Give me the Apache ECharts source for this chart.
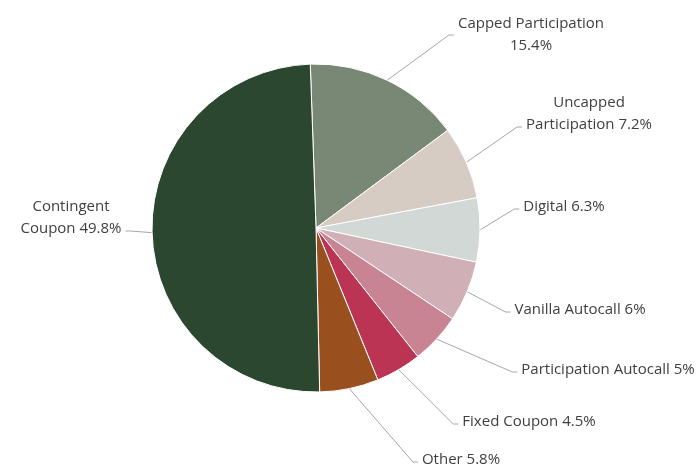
<!DOCTYPE html>
<html lang="en">
<head>
    <meta charset="UTF-8">
    <title>Product mix</title>
    <script src="https://cdn.jsdelivr.net/npm/echarts@6/dist/echarts.min.js"></script>
</head>
<body style="margin:0;background:#fff">
    <div id="pieChart" style="width: 696px;height: 469px"></div>
<script>
    // slices, clockwise from 12 o'clock
    var names = ['Capped Participation', 'Uncapped\nParticipation', 'Digital', 'Vanilla Autocall',
                 'Participation Autocall', 'Fixed Coupon', 'Other', 'Contingent\nCoupon'];
    var shares = [15.4, 7.2, 6.3, 6, 5, 4.5, 5.8, 49.8];
    var colors = ['#798874', '#d6ccc4', '#d2d8d6', '#d0afb6', '#c98494', '#bc3453', '#9a501e', '#2b4730'];
    // separator between name and value in the label
    var seps = ['\n', ' ', ' ', ' ', ' ', ' ', ' ', ' '];

    // label centres, relative to the pie centre (layout only)
    var cx = 316, cy = 228;
    var labelOffsets = [[215, -193], [273, -114], [248, -21], [264, 82],
                        [292, 142], [213, 194], [145, 232], [-245, -10]];

    var chart = echarts.init(document.getElementById('pieChart'));

    var data = [];
    for (var i = 0; i < names.length; i++) {
        data.push({
            name: names[i],
            value: shares[i],
            itemStyle: { color: colors[i] }
        });
    }

    var option = {
        animation: false,
        series: [{
            type: 'pie',
            center: [cx, cy],
            radius: 164,
            startAngle: 92,
            clockwise: true,
            data: data,
            itemStyle: {
                borderColor: '#fff',
                borderWidth: 1
            },
            label: {
                show: true,
                position: 'outside',
                fontFamily: 'Open Sans',
                fontSize: 15,
                color: '#404040',
                lineHeight: 22,
                overflow: 'none',
                formatter: function (p) {
                    return p.name + seps[p.dataIndex] + p.value + '%';
                }
            },
            labelLine: {
                show: true,
                lineStyle: { color: '#a6a6a6', width: 1 }
            },
            labelLayout: function (p) {
                var k = p.dataIndex;
                var x = cx + labelOffsets[k][0];
                var y = cy + labelOffsets[k][1];
                var w = p.labelRect.width;
                var h = p.labelRect.height;
                var right = x > cx;
                var endX = right ? x - w / 2 - 4 : x + w / 2 + 4;
                // line meets the value line, or the middle when the value sits alone
                var endY = seps[k] === '\n' ? y : y + h / 2 - 9;
                var elbowX = right ? endX - 5 : endX + 5;
                return {
                    x: x,
                    y: y,
                    align: 'center',
                    verticalAlign: 'middle',
                    labelLinePoints: [p.labelLinePoints[0], [elbowX, endY], [endX, endY]]
                };
            }
        }]
    };

    chart.setOption(option);
</script>
</body>
</html>
